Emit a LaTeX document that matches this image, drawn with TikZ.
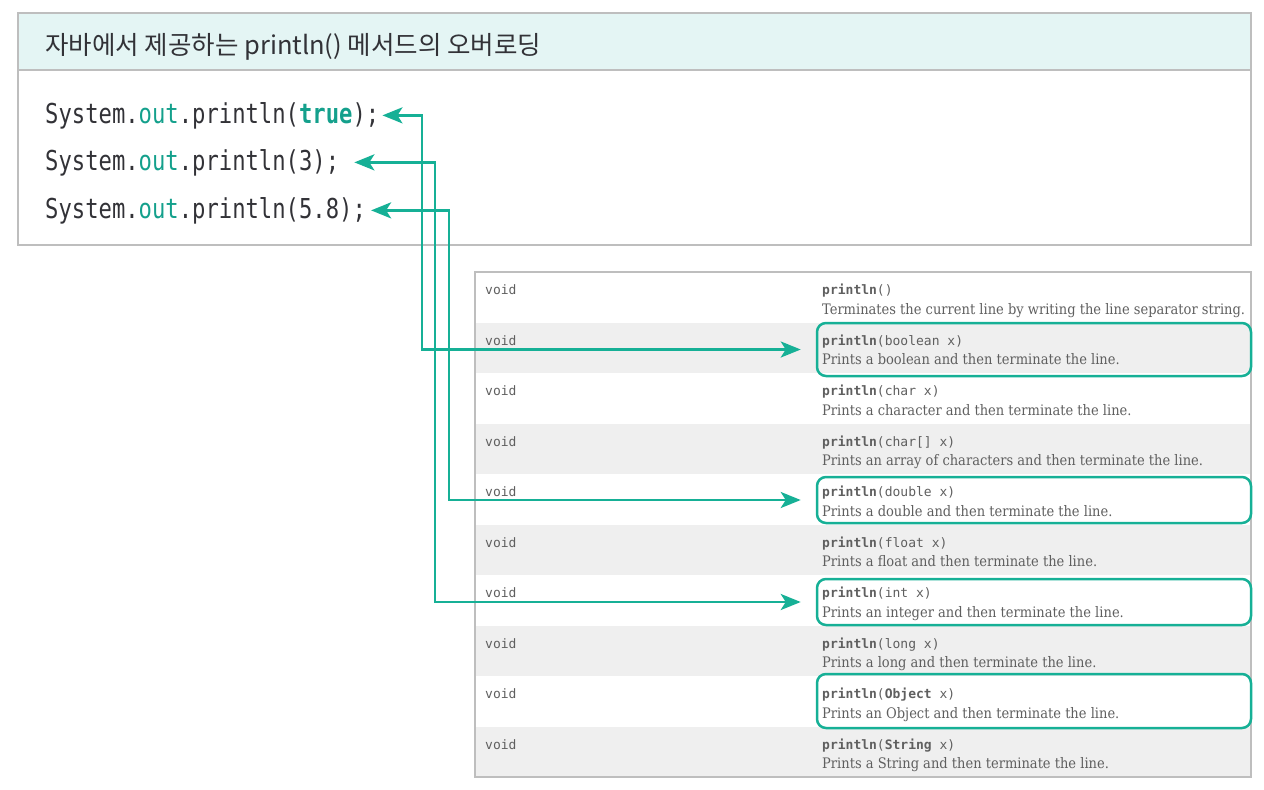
\documentclass[tikz,border=0pt]{standalone}
\usepackage{fontspec}
\usepackage{tikz}
\usetikzlibrary{positioning}
\usetikzlibrary{arrows.meta}
\usetikzlibrary{calc}
\setmainfont{DejaVu Serif Condensed}
\newfontfamily\krfont{Noto Sans CJK KR}
\newfontfamily\codefont[FakeStretch=0.81]{DejaVu Sans Mono}
\newfontfamily\tabmono{DejaVu Sans Mono}
\definecolor{linkteal}{RGB}{22,176,150}
\definecolor{codeteal}{RGB}{20,160,140}
\definecolor{headfill}{RGB}{228,245,244}
\definecolor{rowgray}{RGB}{239,239,239}
\definecolor{framegray}{RGB}{190,190,190}
\definecolor{tabtext}{RGB}{95,95,95}
\definecolor{codetext}{RGB}{50,50,55}
\tikzstyle{codeline}=[anchor=base west,inner sep=0pt,text=codetext,font=\codefont\fontsize{27.4}{30}\selectfont]
\tikzstyle{voidcell}=[anchor=base west,inner sep=0pt,text=tabtext,font=\tabmono\fontsize{13}{15}\selectfont]
\tikzstyle{desccell}=[anchor=base west,inner sep=0pt,text=tabtext,font=\fontsize{14.5}{16}\selectfont]
\tikzstyle{hlbox}=[draw=linkteal,line width=2.5pt,rounded corners=9pt,minimum width=434pt,inner sep=0pt]
\tikzstyle{link}=[{Stealth[length=20pt,width=16pt,inset=5pt]}-{Stealth[length=20pt,width=16pt,inset=5pt]},line width=2.8pt,color=linkteal]

\begin{document}
\begin{tikzpicture}[x=1pt,y=-1pt]

	\useasboundingbox (0,0) rectangle (1264,790);

	% Code box
	\draw[framegray,line width=1.2pt] (18,13) rectangle (1251,245);
	\filldraw[fill=headfill,draw=framegray,line width=1.2pt] (18,13) rectangle (1251,70);
	\node[anchor=base west,inner sep=0pt,text=codetext,font=\krfont\fontsize{25.5}{28}\selectfont] (title) at (45,54) {자바에서 제공하는 println() 메서드의 오버로딩};
	\node[codeline] (ctrue) at (45,123) {System.\textcolor{codeteal}{out}.println(\textcolor{codeteal}{\bfseries true});};
	\node[codeline] (cthree) at (45,170) {System.\textcolor{codeteal}{out}.println(3);};
	\node[codeline] (cfive) at (45,218) {System.\textcolor{codeteal}{out}.println(5.8);};

	% Table
	\fill[rowgray] (475,322.5) rectangle (1251,373);
	\fill[rowgray] (475,423.5) rectangle (1251,474);
	\fill[rowgray] (475,524.5) rectangle (1251,575);
	\fill[rowgray] (475,625.5) rectangle (1251,676);
	\fill[rowgray] (475,726.5) rectangle (1251,777);
	\draw[framegray,line width=1.5pt] (475,272) rectangle (1251,777);

	\node[voidcell] (v1) at (485,294.5) {void};
	\node[voidcell] (s1) at (822,294.5) {\textbf{println}()};
	\node[desccell] (d1) at (822,314) {Terminates the current line by writing the line separator string.};
	\node[voidcell] (v2) at (485,345) {void};
	\node[voidcell] (s2) at (822,345) {\textbf{println}(boolean x)};
	\node[desccell] (d2) at (822,364.5) {Prints a boolean and then terminate the line.};
	\node[voidcell] (v3) at (485,395.5) {void};
	\node[voidcell] (s3) at (822,395.5) {\textbf{println}(char x)};
	\node[desccell] (d3) at (822,415) {Prints a character and then terminate the line.};
	\node[voidcell] (v4) at (485,446) {void};
	\node[voidcell] (s4) at (822,446) {\textbf{println}(char[] x)};
	\node[desccell] (d4) at (822,465.5) {Prints an array of characters and then terminate the line.};
	\node[voidcell] (v5) at (485,496.5) {void};
	\node[voidcell] (s5) at (822,496.5) {\textbf{println}(double x)};
	\node[desccell] (d5) at (822,516) {Prints a double and then terminate the line.};
	\node[voidcell] (v6) at (485,547) {void};
	\node[voidcell] (s6) at (822,547) {\textbf{println}(float x)};
	\node[desccell] (d6) at (822,566.5) {Prints a float and then terminate the line.};
	\node[voidcell] (v7) at (485,597.5) {void};
	\node[voidcell] (s7) at (822,597.5) {\textbf{println}(int x)};
	\node[desccell] (d7) at (822,617) {Prints an integer and then terminate the line.};
	\node[voidcell] (v8) at (485,648) {void};
	\node[voidcell] (s8) at (822,648) {\textbf{println}(long x)};
	\node[desccell] (d8) at (822,667.5) {Prints a long and then terminate the line.};
	\node[voidcell] (v9) at (485,698.5) {void};
	\node[voidcell] (s9) at (822,698.5) {\textbf{println}(\textbf{Object} x)};
	\node[desccell] (d9) at (822,718) {Prints an Object and then terminate the line.};
	\node[voidcell] (v10) at (485,749) {void};
	\node[voidcell] (s10) at (822,749) {\textbf{println}(\textbf{String} x)};
	\node[desccell] (d10) at (822,768.5) {Prints a String and then terminate the line.};

	% Highlights
	\node[hlbox,minimum height=53pt] (hbool) at (1034,349.5) {};
	\node[hlbox,minimum height=46pt] (hdouble) at (1034,500) {};
	\node[hlbox,minimum height=46pt] (hint) at (1034,602) {};
	\node[hlbox,minimum height=54pt] (hobject) at (1034,701) {};

	% Links
	\coordinate (ktrue) at (422,0);
	\coordinate (kthree) at (435,0);
	\coordinate (kfive) at (449,0);
	\draw[link,shorten <=3pt,shorten >=15pt] (ctrue.east) -| (ktrue |- hbool.west) -- (hbool.west);
	\draw[link,shorten <=15pt,shorten >=15pt] (cthree.east) -| (kthree |- hint.west) -- (hint.west);
	\draw[link,shorten <=5pt,shorten >=15pt] (cfive.east) -| (kfive |- hdouble.west) -- (hdouble.west);

\end{tikzpicture}
\end{document}
